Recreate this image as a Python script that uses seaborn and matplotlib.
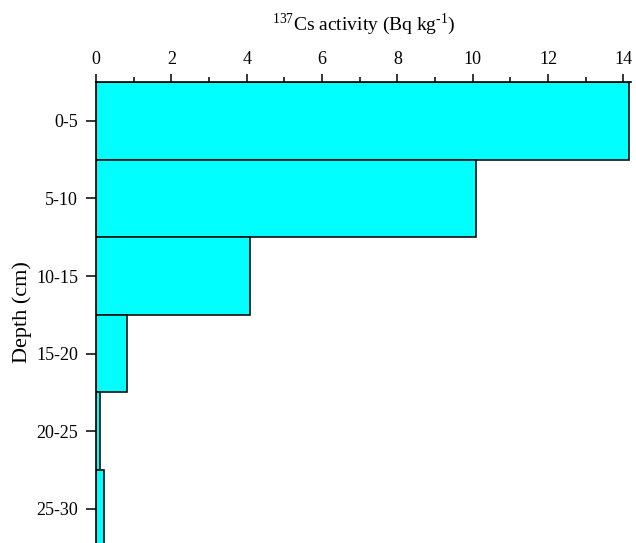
import pandas as pd
import seaborn as sns
import matplotlib.pyplot as plt
from matplotlib.ticker import MultipleLocator

depth = ['0-5', '5-10', '10-15', '15-20', '20-25', '25-30']
cs137 = [14.15, 10.08, 4.08, 0.82, 0.10, 0.20]

df = pd.DataFrame({'depth': depth, 'cs': cs137})

sns.set_style('ticks')
plt.rcParams['font.family'] = ['Liberation Serif', 'DejaVu Serif']
plt.rcParams['mathtext.fontset'] = 'custom'
plt.rcParams['mathtext.rm'] = 'Liberation Serif'
plt.rcParams['axes.edgecolor'] = 'black'
plt.rcParams['xtick.color'] = 'black'
plt.rcParams['ytick.color'] = 'black'
plt.rcParams['text.color'] = 'black'
plt.rcParams['axes.labelcolor'] = 'black'

fig = plt.figure(figsize=(6.36, 5.43), dpi=100)
ax = fig.add_axes([0.151, 0.0, 0.841, 0.849])

sns.barplot(data=df, x='cs', y='depth', orient='h', color='#00ffff', saturation=1,
            edgecolor='#111111', linewidth=1.2, width=1.0, ax=ax)

ax.set_xlim(0, 14.2)
ax.set_ylim(5.44, -0.5)
ax.xaxis.set_major_locator(MultipleLocator(2))
ax.xaxis.set_minor_locator(MultipleLocator(1))
ax.xaxis.tick_top()
ax.xaxis.set_label_position('top')
ax.tick_params(axis='x', which='major', length=6, width=1.1, labelsize=13, pad=4)
ax.tick_params(axis='x', which='minor', length=3.5, width=1.1)
ax.tick_params(axis='y', length=7, width=1.1, labelsize=13, pad=6)
ax.set_xlabel('$^{\\mathrm{137}}$Cs activity (Bq kg$^{\\mathrm{\u2010}\\mathrm{1}}$)',
              fontsize=14, labelpad=15)
ax.set_ylabel('Depth (cm)', fontsize=16, labelpad=3)

for s in ['right', 'bottom']:
    ax.spines[s].set_visible(False)
ax.spines['top'].set_linewidth(1.2)
ax.spines['left'].set_linewidth(1.2)

fig.savefig('out.png', dpi=100)
